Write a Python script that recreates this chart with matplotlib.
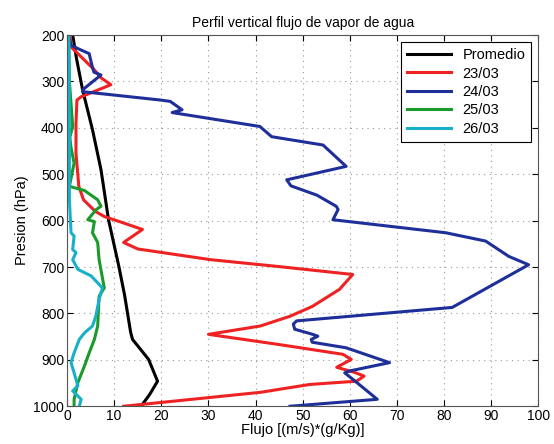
import numpy as np
import matplotlib
matplotlib.use("Agg")
import matplotlib.pyplot as plt

plt.rcParams['font.family'] = ['Liberation Sans', 'DejaVu Sans']

# Promedio
p_prom = [200, 250, 318, 404, 490, 598, 699, 760, 841, 856, 899, 946, 975, 1000]
x_prom = [1.2, 2.0, 3.3, 5.4, 7.2, 8.8, 11.0, 12.2, 13.5, 13.9, 17.3, 19.2, 17.5, 15.7]

# 23/03
p_23 = [200, 211, 225, 250, 275, 292, 307, 333, 340, 390, 455, 526, 555, 580, 591, 605, 619,
        647, 661, 684, 699, 716, 748, 785, 806, 827, 845, 867, 888, 899, 916, 927, 935, 946,
        953, 970, 1000]
x_23 = [0.5, 0.8, 0.8, 3.3, 5.8, 7.2, 9.3, 3.0, 2.1, 1.9, 1.9, 2.5, 3.5, 6.0, 7.9, 12.0, 16.0,
        12.0, 15.0, 30.4, 45.0, 60.6, 57.8, 52.0, 47.3, 41.0, 30.0, 45.0, 58.5, 60.3, 57.2, 61.0,
        63.0, 61.4, 51.5, 41.0, 12.0]

# 24/03
p_24 = [200, 222, 230, 240, 262, 280, 286, 318, 322, 340, 343, 361, 367, 397, 419, 437, 483,
        512, 525, 545, 569, 576, 598, 626, 644, 677, 695, 787, 816, 823, 834, 845, 849, 856,
        862, 874, 906, 924, 928, 945, 985, 1000]
x_24 = [0.3, 0.8, 2.5, 4.7, 5.2, 5.7, 7.2, 3.3, 3.3, 19.8, 21.9, 24.4, 22.3, 40.9, 43.4, 54.3,
        59.2, 46.6, 47.5, 53.0, 57.1, 57.5, 56.4, 80.3, 88.8, 93.7, 97.9, 81.7, 48.7, 48.0, 48.3,
        52.1, 53.2, 51.8, 52.0, 59.2, 68.4, 59.9, 58.9, 61.0, 65.8, 47.3]

# 25/03
p_25 = [200, 300, 397, 420, 440, 476, 526, 535, 555, 569, 576, 598, 602, 626, 647, 684, 745,
        763, 827, 856, 885, 913, 949, 985, 1000]
x_25 = [0.3, 0.5, 1.2, 0.6, 0.8, 1.5, 0.5, 3.7, 6.5, 7.2, 6.2, 4.4, 5.8, 5.4, 6.5, 6.8, 7.9,
        6.8, 6.5, 5.8, 4.7, 3.7, 2.3, 1.5, 1.5]

# 26/03
p_26 = [200, 400, 555, 626, 633, 662, 669, 684, 705, 719, 734, 745, 770, 806, 827, 842, 856,
        885, 906, 928, 956, 967, 985, 1000]
x_26 = [0.4, 0.5, 0.5, 0.85, 1.5, 1.2, 1.9, 1.2, 2.3, 5.1, 6.5, 7.5, 6.8, 6.1, 5.4, 3.7, 2.6,
        1.5, 0.85, 1.5, 2.3, 1.2, 3.0, 2.6]

fig = plt.figure(figsize=(5.54, 4.44), dpi=100)
ax = fig.add_axes([0.121, 0.085, 0.851, 0.836])

ax.plot(x_prom, p_prom, color='black', lw=2.2, label='Promedio')
ax.plot(x_23, p_23, color='#ee2222', lw=2.2, label='23/03')
ax.plot(x_24, p_24, color='#1f2f9a', lw=2.2, label='24/03')
ax.plot(x_25, p_25, color='#1a9a2a', lw=2.2, label='25/03')
ax.plot(x_26, p_26, color='#18b0c8', lw=2.2, label='26/03')

ax.set_xlim(0, 100)
ax.set_ylim(1000, 200)
ax.set_xticks(np.arange(0, 101, 10))
ax.set_yticks(np.arange(200, 1001, 100))
ax.grid(True, linestyle=(0, (1, 4)), color='#999999', lw=0.8)
ax.tick_params(direction='in', top=True, right=True, labelsize=10, length=4, pad=2)
for s in ax.spines.values():
    s.set_color('#555555')

ax.set_title('Perfil vertical flujo de vapor de agua', fontsize=10, pad=6)
ax.set_xlabel('Flujo [(m/s)*(g/Kg)]', fontsize=10.5, labelpad=0)
ax.set_ylabel('Presion (hPa)', fontsize=10.5, labelpad=3)

leg = ax.legend(loc='upper right', fontsize=10.5, fancybox=False, framealpha=1,
                edgecolor='black', handlelength=3.0, borderaxespad=0.5, labelspacing=0.3,
                borderpad=0.4)
leg.get_frame().set_linewidth(0.8)

fig.savefig('out.png', dpi=100)
